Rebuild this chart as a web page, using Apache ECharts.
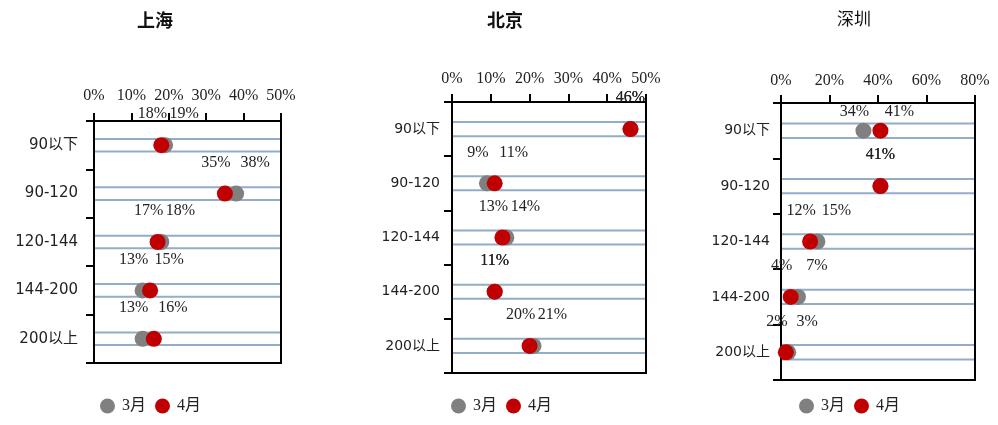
<!DOCTYPE html>
<html>
<head>
<meta charset="utf-8">
<script src="https://cdn.jsdelivr.net/npm/echarts@6/dist/echarts.min.js"></script>
<style>
html,body{margin:0;padding:0;background:#fff;}
#main{width:998px;height:425px;}
</style>
</head>
<body>
<div id="main"></div>
<script>
// ---- data ----
const categories = ['90以下', '90-120', '120-144', '144-200', '200以上'];
const seriesNames = ['3月', '4月'];
const cityTitles = ['上海', '北京', '深圳'];
const shanghaiMar = [19, 38, 18, 13, 13];
const shanghaiApr = [18, 35, 17, 15, 16];
const beijingMar = [46, 9, 14, 11, 21];
const beijingApr = [46, 11, 13, 11, 20];
const shenzhenMar = [34, 41, 15, 7, 3];
const shenzhenApr = [41, 41, 12, 4, 2];
const axisMax = [50, 50, 80];
const axisInterval = [10, 10, 20];

// ---- layout / style ----
const grids = [
  {left: 94, top: 121, width: 187, height: 242},
  {left: 452, top: 102, width: 194, height: 271},
  {left: 781, top: 103, width: 194, height: 277}
];
const titlePos = [
  {left: 137, top: 11, size: 18, weight: 'bold'},
  {left: 487, top: 11, size: 18, weight: 'bold'},
  {left: 837, top: 10, size: 17, weight: 'normal'}
];
const legendLeft = [100, 451, 799];
const catLabelMargin = [16, 12, 11];
const catLabelSize = [15, 14, 14];
const xLabelMargin = [17, 15, 14];
const firstRowLabelDy = [-31, -31, -19];
const marchData = [shanghaiMar, beijingMar, shenzhenMar];
const aprilData = [shanghaiApr, beijingApr, shenzhenApr];
const colors = ['#808080', '#c00000'];
const serif = "'Liberation Serif','Noto Sans CJK SC',serif";
const sans = "'DejaVu Sans','Noto Sans CJK SC',sans-serif";

function labelOffset(own, other, dy) {
  if (own === other) return [0, dy];
  return own < other ? [-9, dy] : [19, dy];
}

const option = {
  animation: false,
  backgroundColor: '#fff',
  title: [], grid: [], xAxis: [], yAxis: [], legend: [], series: []
};

for (let i = 0; i < 3; i++) {
  option.title.push({
    text: cityTitles[i], left: titlePos[i].left, top: titlePos[i].top, padding: 0,
    textStyle: {fontFamily: "'Noto Sans CJK SC',sans-serif", fontSize: titlePos[i].size, fontWeight: titlePos[i].weight, color: '#111'}
  });
  option.grid.push(Object.assign({show: true, borderColor: '#000', borderWidth: 2, backgroundColor: 'transparent', containLabel: false}, grids[i]));
  option.xAxis.push({
    type: 'value', gridIndex: i, position: 'top', min: 0, max: axisMax[i], interval: axisInterval[i],
    axisLine: {show: true, lineStyle: {color: '#000', width: 2}},
    axisTick: {show: true, length: 8, lineStyle: {color: '#000', width: 2}},
    splitLine: {show: false},
    axisLabel: {formatter: '{value}%', margin: xLabelMargin[i], fontFamily: serif, fontSize: 16, color: '#222'}
  });
  option.yAxis.push({
    type: 'category', gridIndex: i, data: categories, inverse: true,
    axisLine: {show: true, lineStyle: {color: '#000', width: 2}},
    axisTick: {show: true, length: 8, lineStyle: {color: '#000', width: 2}},
    splitLine: {show: false},
    axisLabel: {margin: catLabelMargin[i], fontFamily: sans, fontSize: catLabelSize[i], color: '#222'}
  });
  option.legend.push({
    data: seriesNames, left: legendLeft[i], top: 398, padding: 0,
    icon: 'circle', itemWidth: 15, itemHeight: 15, itemGap: 9,
    textStyle: {fontFamily: serif, fontSize: 16, color: '#222', padding: [0, 0, 0, 2]}
  });
  // band lines (bar background outlines)
  option.series.push({
    type: 'bar', xAxisIndex: i, yAxisIndex: i, data: aprilData[i], barWidth: '26%',
    itemStyle: {color: 'rgba(0,0,0,0)'}, silent: true, z: -1,
    showBackground: true,
    backgroundStyle: {color: 'rgba(0,0,0,0)', borderColor: '#95acc9', borderWidth: 2}
  });
  const sets = [marchData[i], aprilData[i]];
  for (let s = 0; s < 2; s++) {
    const own = sets[s], other = sets[1 - s];
    option.series.push({
      name: seriesNames[s], type: 'scatter', xAxisIndex: i, yAxisIndex: i,
      symbolSize: 16, itemStyle: {color: colors[s], opacity: 1}, z: 3 + s,
      data: own.map((v, k) => ({
        value: [v, categories[k]],
        label: {offset: labelOffset(v, other[k], k === 0 ? firstRowLabelDy[i] : -31)}
      })),
      label: {
        show: true, position: 'inside', formatter: p => p.value[0] + '%',
        fontFamily: serif, fontSize: 16, color: '#222'
      }
    });
  }
}

const chart = echarts.init(document.getElementById('main'));
chart.setOption(option);
</script>
</body>
</html>
